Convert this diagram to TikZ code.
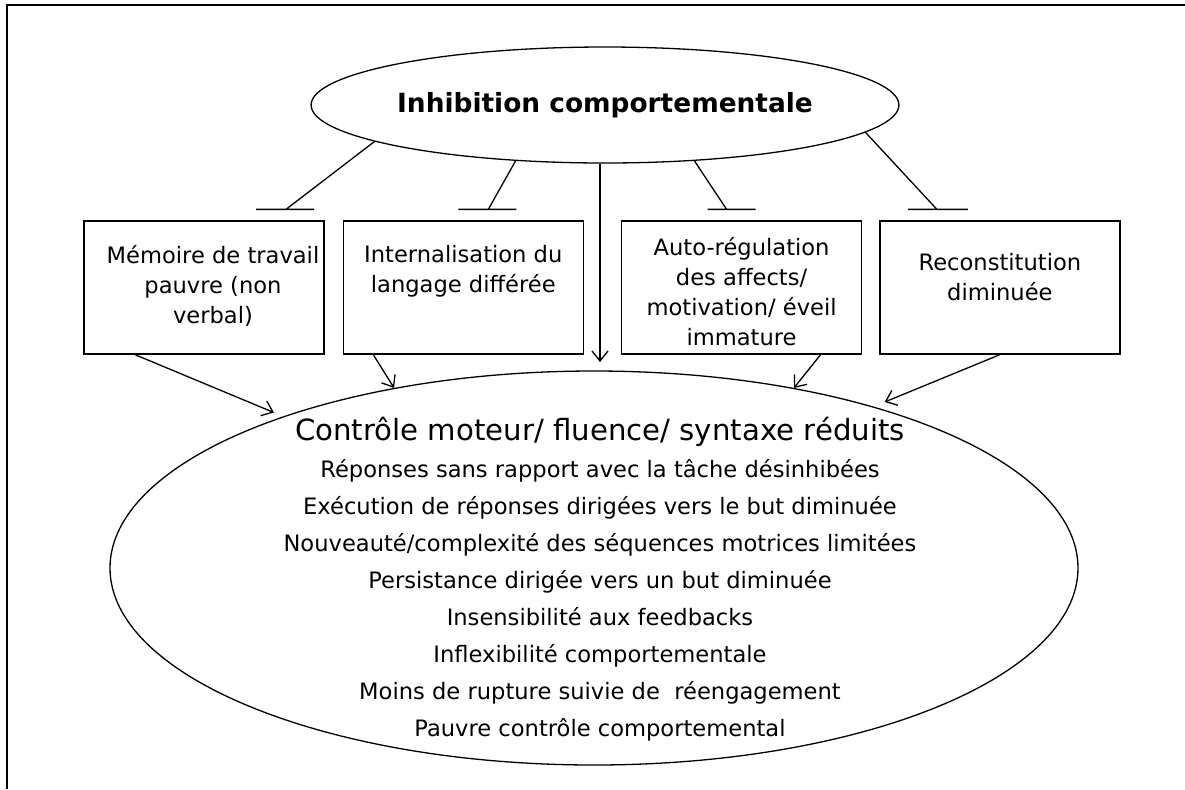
\documentclass[tikz,border=0pt]{standalone}
\usepackage{fontspec}
\setmainfont{DejaVu Sans}
\usetikzlibrary{shapes.geometric,positioning,arrows.meta}

\begin{document}
\begin{tikzpicture}[x=0.5pt,y=-0.5pt,line width=0.65pt,
		box/.style={draw,rectangle,minimum width=120pt,minimum height=66.5pt,inner sep=0pt},
		boxtext/.style={align=center,inner sep=0pt,font=\fontsize{11.3}{15}\selectfont},
		arr/.style={-{Straight Barb[length=5pt,width=8pt]}}]
			\useasboundingbox (0,0) rectangle (1185,789);
			\draw[line width=1pt] (7,789) -- (7,5) -- (1185,5);

			% top: inhibition
			\node[draw,ellipse,minimum width=244pt,minimum height=58pt,inner sep=0pt,font=\bfseries\fontsize{13.2}{16}\selectfont] (inh) at (605,105) {Inhibition comportementale};

			% the four executive functions
			\node[box] (mem) at (204,287.5) {};
			\node[box,right=9pt of mem] (lang) {};
			\node[box,right=18.5pt of lang] (auto) {};
			\node[box,right=8.5pt of auto] (recon) {};
			\node[boxtext,below=12pt of mem.north,xshift=4.5pt] (memtxt) {Mémoire de travail\\pauvre (non\\verbal)};
			\node[boxtext,below=12pt of lang.north] (langtxt) {Internalisation du\\langage différée};
			\node[boxtext,below=8pt of auto.north] (autotxt) {Auto-régulation\\des affects/\\motivation/ éveil\\immature};
			\node[boxtext,below=16pt of recon.north] (recontxt) {Reconstitution\\diminuée};

			% bottom: motor control
			\node[draw,ellipse,minimum width=484pt,minimum height=197pt,inner sep=0pt] (ctl) at (594,568) {};
			\node[align=center,inner sep=0pt,font=\fontsize{11.3}{18.5}\selectfont] (ctltxt) at (600,579) {{\fontsize{14.6}{18.5}\selectfont Contrôle moteur/ fluence/ syntaxe réduits}\\
				Réponses sans rapport avec la tâche désinhibées\\
				Exécution de réponses dirigées vers le but diminuée\\
				Nouveauté/complexité des séquences motrices limitées\\
				Persistance dirigée vers un but diminuée\\
				Insensibilité aux feedbacks\\
				Inflexibilité comportementale\\
				Moins de rupture suivie de\ \ réengagement\\
				Pauvre contrôle comportemental};

			% inhibitory links, flat bars above the boxes
			\coordinate (t1) at ([shift={(82,-11)}]mem.north);
			\coordinate (t2) at ([shift={(25,-11)}]lang.north);
			\coordinate (t3) at ([shift={(-15,-11)}]auto.north);
			\coordinate (t4) at ([shift={(-63,-11)}]recon.north);
			\draw (inh.189) -- (t1) (t1) ++(-30,0) -- ++(58,0);
			\draw (inh.212) -- (t2) (t2) ++(-30,0) -- ++(58,0);
			\draw (inh.328) -- (t3) (t3) ++(-19,0) -- ++(48,0);
			\draw (inh.354) -- (t4) (t4) ++(-29,0) -- ++(60,0);

			% arrows
			\coordinate (vtip) at (600,362);
			\draw[arr] (inh.south -| vtip) -- (vtip);
			\draw[arr,shorten >=5pt] ([xshift=-34.5pt]mem.south) -- (ctl.154);
			\draw[arr] ([xshift=-45pt]lang.south) -- (ctl.138);
			\draw[arr] ([xshift=39.5pt]auto.south) -- (ctl.42);
			\draw[arr,shorten >=6pt] (recon.south) -- (ctl.30);
		\end{tikzpicture}
\end{document}
